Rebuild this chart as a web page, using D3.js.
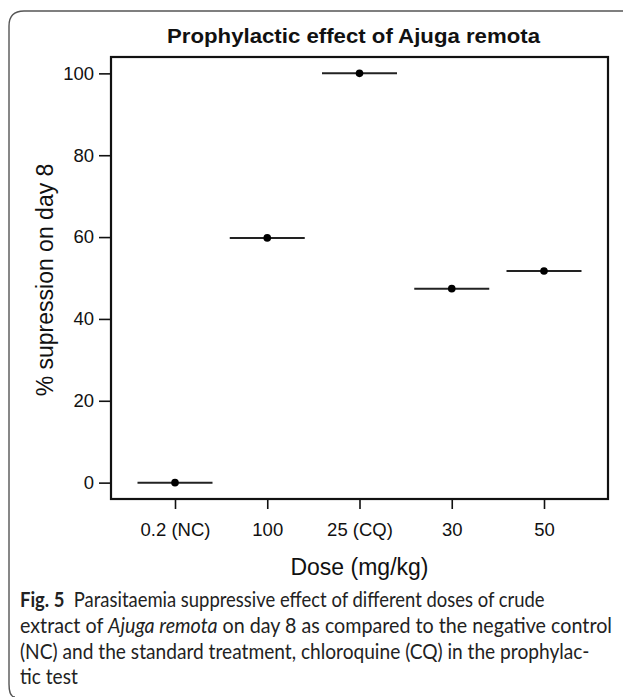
<!DOCTYPE html>
<html>
<head>
<meta charset="utf-8">
<script src="https://cdn.jsdelivr.net/npm/d3@7"></script>
<style>
  html, body { margin: 0; padding: 0; background: #fff; }
  svg { display: block; }
</style>
</head>
<body>
<svg id="chart" width="623" height="697"></svg>
<script>
// ---- data ----
const categories = ["0.2 (NC)", "100", "25 (CQ)", "30", "50"];
const suppression = [0, 59.8, 100, 47.4, 51.7];
const yTicks = [0, 20, 40, 60, 80, 100];
const title = "Prophylactic effect of Ajuga remota";
const xLabel = "Dose (mg/kg)";
const yLabel = "% supression on day 8";

const svg = d3.select("#chart");
const chartFont = "'Liberation Sans', Arial, sans-serif";

// outer rounded border (right side cut off)
svg.append("path")
  .attr("d", "M623,11 L24,11 Q9,11 9,26 L9,684 Q9,697 15,697")
  .attr("fill", "none").attr("stroke", "#555").attr("stroke-width", 1.4);

const plot = { left: 111, right: 608, top: 57, bottom: 499 };

const x = d3.scalePoint().domain(categories).range([175, 544]);
const y = d3.scaleLinear().domain([-4, 104]).range([plot.bottom, plot.top]);

// box
svg.append("rect")
  .attr("x", plot.left).attr("y", plot.top)
  .attr("width", plot.right - plot.left).attr("height", plot.bottom - plot.top)
  .attr("fill", "none").attr("stroke", "#111").attr("stroke-width", 2.2);

// y axis
const yAxis = d3.axisLeft(y).tickValues(yTicks).tickSize(12).tickPadding(5).tickFormat(d3.format("d"));
const gy = svg.append("g").attr("transform", `translate(${plot.left},0)`).call(yAxis);
gy.select(".domain").remove();
gy.selectAll(".tick line").attr("stroke", "#111").attr("stroke-width", 1.6);
gy.selectAll(".tick text").attr("font-family", chartFont).attr("font-size", 18.5).attr("fill", "#111");

// x axis
const xAxis = d3.axisBottom(x).tickSize(10).tickPadding(14);
const gx = svg.append("g").attr("transform", `translate(0,${plot.bottom})`).call(xAxis);
gx.select(".domain").remove();
gx.selectAll(".tick line").attr("stroke", "#111").attr("stroke-width", 1.6);
gx.selectAll(".tick text").attr("font-family", chartFont).attr("font-size", 18.5).attr("fill", "#111");

// segments and points
const halfW = 37.5;
svg.append("g").selectAll("line").data(categories).join("line")
  .attr("x1", d => x(d) - halfW).attr("x2", d => x(d) + halfW)
  .attr("y1", (d, i) => y(suppression[i])).attr("y2", (d, i) => y(suppression[i]))
  .attr("stroke", "#222").attr("stroke-width", 2);
svg.append("g").selectAll("circle").data(categories).join("circle")
  .attr("cx", d => x(d)).attr("cy", (d, i) => y(suppression[i]))
  .attr("r", 3.8).attr("fill", "#000");

// title
svg.append("text").attr("x", 167).attr("y", 43)
  .attr("font-family", chartFont).attr("font-weight", "bold").attr("font-size", 20.5)
  .attr("textLength", 373).attr("lengthAdjust", "spacingAndGlyphs")
  .attr("fill", "#111").text(title);

// axis labels
svg.append("text").attr("x", (plot.left + plot.right) / 2).attr("y", 575)
  .attr("text-anchor", "middle").attr("font-family", chartFont).attr("font-size", 23)
  .attr("fill", "#111").text(xLabel);
svg.append("text").attr("transform", `translate(53,${(plot.top + plot.bottom) / 2 + 2}) rotate(-90)`)
  .attr("text-anchor", "middle").attr("font-family", chartFont).attr("font-size", 23)
  .attr("fill", "#111").text(yLabel);

// caption
const capFont = "Lato, 'Open Sans', sans-serif";
const capLines = [
  { y: 607, width: 525, parts: [["Fig. 5", "bold"], ["  Parasitaemia suppressive effect of different doses of crude", "normal"]] },
  { y: 633, width: 592, parts: [["extract of ", "normal"], ["Ajuga remota", "italic"], [" on day 8 as compared to the negative control", "normal"]] },
  { y: 658.5, width: 570, parts: [["(NC) and the standard treatment, chloroquine (CQ) in the prophylac-", "normal"]] },
  { y: 684, width: null, parts: [["tic test", "normal"]] }
];
const scales = [];
capLines.forEach(line => {
  const t = svg.append("text").attr("x", 0).attr("y", 0)
    .attr("font-family", capFont).attr("font-size", 21).attr("fill", "#222")
    .attr("xml:space", "preserve").style("white-space", "pre");
  line.parts.forEach(([s, st]) => {
    const ts = t.append("tspan").text(s);
    if (st === "bold") ts.attr("font-weight", "bold");
    if (st === "italic") ts.attr("font-style", "italic");
  });
  const w = t.node().getComputedTextLength();
  const sx = line.width ? line.width / w : d3.mean(scales);
  if (line.width) scales.push(sx);
  t.attr("transform", `translate(20,${line.y}) scale(${sx},1)`);
});
</script>
</body>
</html>
